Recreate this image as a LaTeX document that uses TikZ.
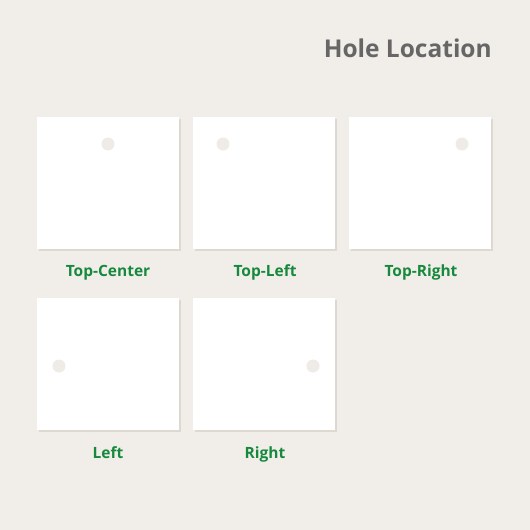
\documentclass[tikz,border=0pt]{standalone}
\usepackage{fontspec}
\setmainfont{Open Sans}
\definecolor{bg}{HTML}{F1EEEA}
\definecolor{titlegray}{HTML}{666666}
\definecolor{lblgreen}{HTML}{17893D}
\definecolor{holec}{HTML}{EFECE7}
\definecolor{shadowc}{HTML}{DDD8D0}
\begin{document}
\begin{tikzpicture}[x=1pt,y=-1pt,
  card/.style={fill=white, draw=none, minimum width=142pt, minimum height=132pt, inner sep=0pt, anchor=north west},
  shade/.style={fill=shadowc, draw=none, minimum width=142pt, minimum height=132pt, inner sep=0pt, anchor=north west},
  hole/.style={circle, fill=holec, draw=none, minimum size=13pt, inner sep=0pt},
  lbl/.style={text=lblgreen, font=\fontsize{15.5}{18}\selectfont\bfseries, inner sep=0pt, anchor=base},
  ttl/.style={text=titlegray, font=\fontsize{24.5}{28}\selectfont\bfseries, inner sep=0pt, anchor=base east}]
\fill[bg] (0,0) rectangle (530,530);
\useasboundingbox (0,0) rectangle (530,530);
\node[ttl] (title) at (492,57) {Hole Location};
% shadows
\foreach \x/\y in {37/117,193/117,349/117,37/298,193/298}
  \node[shade] at (\x+1.5,\y+1.5) {};
% cards
\node[card] (c1) at (37,117) {};
\node[card] (c2) at (193,117) {};
\node[card] (c3) at (349,117) {};
\node[card] (c4) at (37,298) {};
\node[card] (c5) at (193,298) {};
% holes
\node[hole] (h1) at (108,144) {};
\node[hole] (h2) at (223,144) {};
\node[hole] (h3) at (462,144) {};
\node[hole] (h4) at (59,366) {};
\node[hole] (h5) at (313,366) {};
% labels
\node[lbl] (l1) at (108,276) {Top-Center};
\node[lbl] (l2) at (265,276) {Top-Left};
\node[lbl] (l3) at (421,276) {Top-Right};
\node[lbl] (l4) at (108,458) {Left};
\node[lbl] (l5) at (265,458) {Right};
\end{tikzpicture}
\end{document}
